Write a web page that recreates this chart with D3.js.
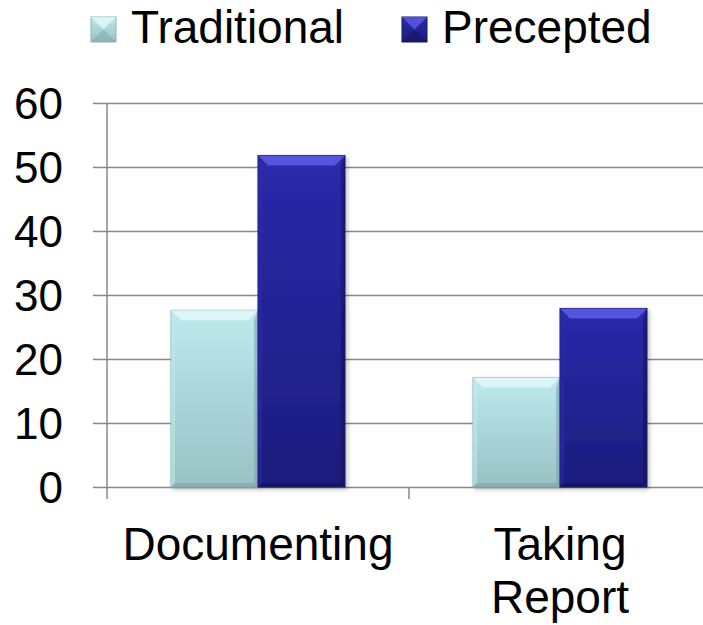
<!DOCTYPE html>
<html>
<head>
<meta charset="utf-8">
<script src="https://cdn.jsdelivr.net/npm/d3@7"></script>
<style>
  body { margin: 0; background: #fff; }
  text { font-family: "Liberation Sans", Arial, sans-serif; fill: #000; }
</style>
</head>
<body>
<div id="chart"></div>
<script>
// data
var categories = ["Documenting", "Taking Report"];
var series = ["Traditional", "Precepted"];
var traditionalValues = [27.6, 17.1];
var preceptedValues = [51.8, 27.9];
var yTicks = [0, 10, 20, 30, 40, 50, 60];

// set the dimensions and margins of the graph
var margin = { top: 103, right: -8, bottom: 138, left: 107 },
    width = 703 - margin.left - margin.right,
    height = 625 - margin.top - margin.bottom;

var svg = d3.select("#chart")
    .append("svg")
    .attr("width", 703)
    .attr("height", 625);

var defs = svg.append("defs");

// colours for the bevelled bars
var palette = {
    Traditional: { top: "#bdeaee", bottom: "#98c1c3", light: "#e4f8f9", dark: "#7fa5a8", edge: "#8fb3b5" },
    Precepted: { top: "#2a2aac", bottom: "#1c1c7c", light: "#5c5ce6", dark: "#12125a", edge: "#161668" }
};

series.forEach(function (s) {
    var g = defs.append("linearGradient")
        .attr("id", "grad-" + s)
        .attr("x1", 0).attr("y1", 0).attr("x2", 0).attr("y2", 1);
    g.append("stop").attr("offset", "0%").attr("stop-color", palette[s].top);
    g.append("stop").attr("offset", "100%").attr("stop-color", palette[s].bottom);
});

var shadow = defs.append("filter").attr("id", "shadow")
    .attr("x", "-10%").attr("y", "-10%").attr("width", "130%").attr("height", "130%");
shadow.append("feDropShadow").attr("dx", 2).attr("dy", 2).attr("stdDeviation", 2)
    .attr("flood-color", "#000").attr("flood-opacity", 0.25);

var chart = svg.append("g")
    .attr("transform", "translate(" + margin.left + "," + margin.top + ")");

// scales
var x0 = d3.scaleBand().domain(categories).range([0, width]).padding(0);
var x1 = d3.scaleBand().domain(series).range([0, x0.bandwidth()]).paddingInner(0).paddingOuter(0.736);
var y = d3.scaleLinear().domain([0, 60]).range([height, 0]);

// gridlines (y axis ticks extended)
var yAxis = chart.append("g")
    .call(d3.axisLeft(y).tickValues(yTicks).tickSize(-(703 - margin.left)).tickFormat(""));
yAxis.select(".domain").remove();
yAxis.selectAll(".tick line")
    .attr("x1", -14)
    .attr("stroke", "#878787")
    .attr("stroke-width", 1.5);

// y tick labels
chart.selectAll(".ylabel")
    .data(yTicks)
    .enter().append("text")
    .attr("class", "ylabel")
    .attr("x", -44)
    .attr("y", function (d) { return y(d); })
    .attr("dy", "0.36em")
    .style("text-anchor", "end")
    .style("font-size", "44px")
    .text(function (d) { return d; });

// vertical axis line
chart.append("line")
    .attr("x1", 0).attr("x2", 0)
    .attr("y1", 0).attr("y2", height + 12)
    .attr("stroke", "#878787").attr("stroke-width", 1.5);

// category ticks
chart.selectAll(".xtick")
    .data(categories.slice(1))
    .enter().append("line")
    .attr("class", "xtick")
    .attr("x1", function (d) { return x0(d); })
    .attr("x2", function (d) { return x0(d); })
    .attr("y1", height).attr("y2", height + 12)
    .attr("stroke", "#878787").attr("stroke-width", 1.5);

// bars
var rows = [];
categories.forEach(function (c, i) {
    rows.push({ cat: c, series: "Traditional", value: traditionalValues[i] });
    rows.push({ cat: c, series: "Precepted", value: preceptedValues[i] });
});

function drawBevel(g, bx, by, bw, bh, s, b) {
    var p = palette[s];
    g.append("rect")
        .attr("x", bx).attr("y", by).attr("width", bw).attr("height", bh)
        .attr("fill", "url(#grad-" + s + ")")
        .attr("stroke", p.edge).attr("stroke-width", 1);
    // top bevel
    g.append("polygon")
        .attr("points", [[bx, by], [bx + bw, by], [bx + bw - b, by + b], [bx + b, by + b]].join(" "))
        .attr("fill", p.light).attr("opacity", 0.85);
    // left bevel
    g.append("polygon")
        .attr("points", [[bx, by], [bx + b * 0.4, by + b], [bx + b * 0.4, by + bh - b * 0.4], [bx, by + bh]].join(" "))
        .attr("fill", p.top).attr("opacity", 0.6);
    // right bevel
    g.append("polygon")
        .attr("points", [[bx + bw, by], [bx + bw - b * 0.4, by + b], [bx + bw - b * 0.4, by + bh - b * 0.4], [bx + bw, by + bh]].join(" "))
        .attr("fill", p.dark).attr("opacity", 0.55);
    // bottom bevel
    g.append("polygon")
        .attr("points", [[bx, by + bh], [bx + bw, by + bh], [bx + bw - b * 0.4, by + bh - b * 0.4], [bx + b * 0.4, by + bh - b * 0.4]].join(" "))
        .attr("fill", p.dark).attr("opacity", 0.6);
}

chart.selectAll(".bar")
    .data(rows)
    .enter().append("g")
    .attr("class", "bar")
    .attr("filter", "url(#shadow)")
    .each(function (d) {
        var bx = x0(d.cat) + x1(d.series);
        var by = y(d.value);
        drawBevel(d3.select(this), bx, by, x1.bandwidth(), height - by, d.series, 10);
    });

// category labels
var catLabels = chart.selectAll(".xlabel")
    .data(categories)
    .enter().append("text")
    .attr("class", "xlabel")
    .attr("x", function (d) { return x0(d) + x0.bandwidth() / 2; })
    .attr("y", height + 73)
    .style("text-anchor", "middle")
    .style("font-size", "46px");

catLabels.each(function (d) {
    var t = d3.select(this);
    var words = d === "Taking Report" ? ["Taking", "Report"] : [d];
    words.forEach(function (w, i) {
        t.append("tspan")
            .attr("x", x0(d) + x0.bandwidth() / 2)
            .attr("dy", i === 0 ? 0 : 53)
            .text(w);
    });
});

// legend
var legendX = [91, 402];
var legend = svg.selectAll(".legend")
    .data(series)
    .enter().append("g")
    .attr("class", "legend")
    .attr("transform", function (d, i) { return "translate(" + legendX[i] + ",17)"; });

legend.each(function (d) {
    var g = d3.select(this);
    var p = palette[d];
    g.append("rect").attr("width", 25).attr("height", 25)
        .attr("fill", "url(#grad-" + d + ")").attr("stroke", p.edge);
    g.append("polygon").attr("points", "0,0 25,0 12.5,12.5").attr("fill", p.light).attr("opacity", 0.8);
    g.append("polygon").attr("points", "0,25 25,25 12.5,12.5").attr("fill", p.dark).attr("opacity", 0.5);
    g.append("text")
        .attr("x", 40)
        .attr("y", 26)
        .style("font-size", "46px")
        .text(d);
});
</script>
</body>
</html>
